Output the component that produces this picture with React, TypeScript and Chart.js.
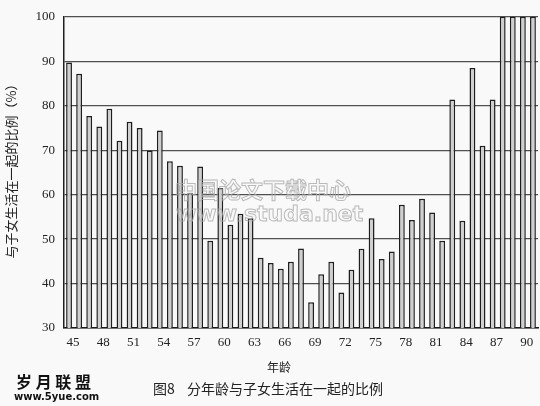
import React, { useEffect, useRef } from "react";
import { Chart, registerables } from "chart.js";

Chart.register(...registerables);

const ages: number[] = [
  45, 46, 47, 48, 49, 50, 51, 52, 53, 54, 55, 56, 57, 58, 59, 60, 61, 62, 63, 64, 65, 66, 67, 68,
  69, 70, 71, 72, 73, 74, 75, 76, 77, 78, 79, 80, 81, 82, 83, 84, 85, 86, 87, 88, 89, 90, 91,
];
const shares: number[] = [
  89.7, 87.2, 77.7, 75.3, 79.3, 72.1, 76.4, 75.0, 69.9, 74.4, 67.5, 66.5, 60.4, 66.3, 49.6, 61.5,
  53.2, 55.7, 54.7, 45.8, 44.6, 43.3, 44.9, 47.9, 35.8, 42.1, 44.9, 38.0, 43.1, 47.8, 54.7, 45.5,
  47.2, 57.7, 54.3, 59.1, 56.0, 49.6, 81.4, 54.1, 88.5, 71.0, 81.4, 100, 100, 100, 100,
];
const shownAges: number[] = [45, 48, 51, 54, 57, 60, 63, 66, 69, 72, 75, 78, 81, 84, 87, 90];
const yTitle = "与子女生活在一起的比例（%）";
const xTitle = "年龄";
const captionNo = "图8";
const captionText = "分年龄与子女生活在一起的比例";

const CJK = '"Noto Sans CJK SC", "Noto Sans", sans-serif';
const SERIF = '"Liberation Serif", "DejaVu Serif", serif';

const decor = {
  id: "decor",
  beforeDraw(chart: any) {
    const c = chart.ctx;
    c.save();
    c.fillStyle = "#f9f9f9";
    c.fillRect(0, 0, chart.width, chart.height);
    c.restore();
  },
  afterDraw(chart: any) {
    const c = chart.ctx;
    c.save();
    // y title
    c.fillStyle = "#222";
    c.font = `13px ${CJK}`;
    c.textAlign = "center";
    c.textBaseline = "middle";
    c.translate(11, 168);
    c.rotate(-Math.PI / 2);
    c.fillText(yTitle, 0, 0);
    c.restore();

    c.save();
    c.fillStyle = "#222";
    c.textAlign = "center";
    c.textBaseline = "middle";
    c.font = `12px ${CJK}`;
    c.fillText(xTitle, 279, 367);
    c.font = `14px ${CJK}`;
    c.textAlign = "left";
    c.fillText(captionNo, 153, 389);
    c.fillText(captionText, 187, 389);

    // watermark bottom-left
    c.font = `bold 16px ${CJK}`;
    c.textAlign = "left";
    c.fillStyle = "#111";
    c.fillText("岁 月 联 盟", 16, 382);
    c.font = `bold 10px "DejaVu Sans", sans-serif`;
    c.fillText("www.5yue.com", 14, 397);

    // outlined central watermark
    c.strokeStyle = "rgba(170,170,170,0.8)";
    c.lineWidth = 1;
    c.font = `bold 22px ${CJK}`;
    c.strokeText("中国论文下载中心", 175, 190);
    c.font = `bold 22px "DejaVu Sans", sans-serif`;
    c.strokeText("www.studa.net", 176, 215);
    c.restore();
  },
};

export default function App() {
  const ref = useRef<HTMLCanvasElement | null>(null);
  useEffect(() => {
    if (!ref.current) return;
    const chart = new Chart(ref.current, {
      type: "bar",
      data: {
        labels: ages.map(String),
        datasets: [
          {
            data: shares,
            backgroundColor: "#cfcfcf",
            borderColor: "#1e1e1e",
            borderWidth: 1.5,
            barPercentage: 0.58,
            categoryPercentage: 1,
          },
        ],
      },
      options: {
        responsive: false,
        devicePixelRatio: 1,
        animation: false,
        layout: { padding: { left: 0, right: 2, top: 14, bottom: 0 } },
        plugins: { legend: { display: false }, tooltip: { enabled: false } },
        scales: {
          x: {
            afterFit: (s: any) => {
              s.height = 78;
            },
            grid: { display: false, drawTicks: false },
            border: { display: true, color: "#1e1e1e", width: 1.5 },
            ticks: {
              autoSkip: false,
              maxRotation: 0,
              padding: 7,
              labelOffset: 4,
              color: "#222",
              font: { family: SERIF, size: 13 },
              callback: (_v: any, i: number) =>
                shownAges.includes(ages[i]) ? String(ages[i]) : "",
            },
          },
          y: {
            min: 30,
            max: 100,
            z: 1,
            afterFit: (s: any) => {
              s.width = 64;
            },
            grid: { color: "#505050", lineWidth: 1.2, drawTicks: false },
            border: { display: true, color: "#1e1e1e", width: 1.5 },
            ticks: {
              stepSize: 10,
              padding: 9,
              color: "#222",
              font: { family: SERIF, size: 13 },
            },
          },
        },
      },
      plugins: [decor],
    });
    return () => chart.destroy();
  }, []);
  return (
    <div style={{ position: "absolute", left: 0, top: 0, width: 540, height: 406 }}>
      <canvas ref={ref} width={540} height={406} />
    </div>
  );
}
